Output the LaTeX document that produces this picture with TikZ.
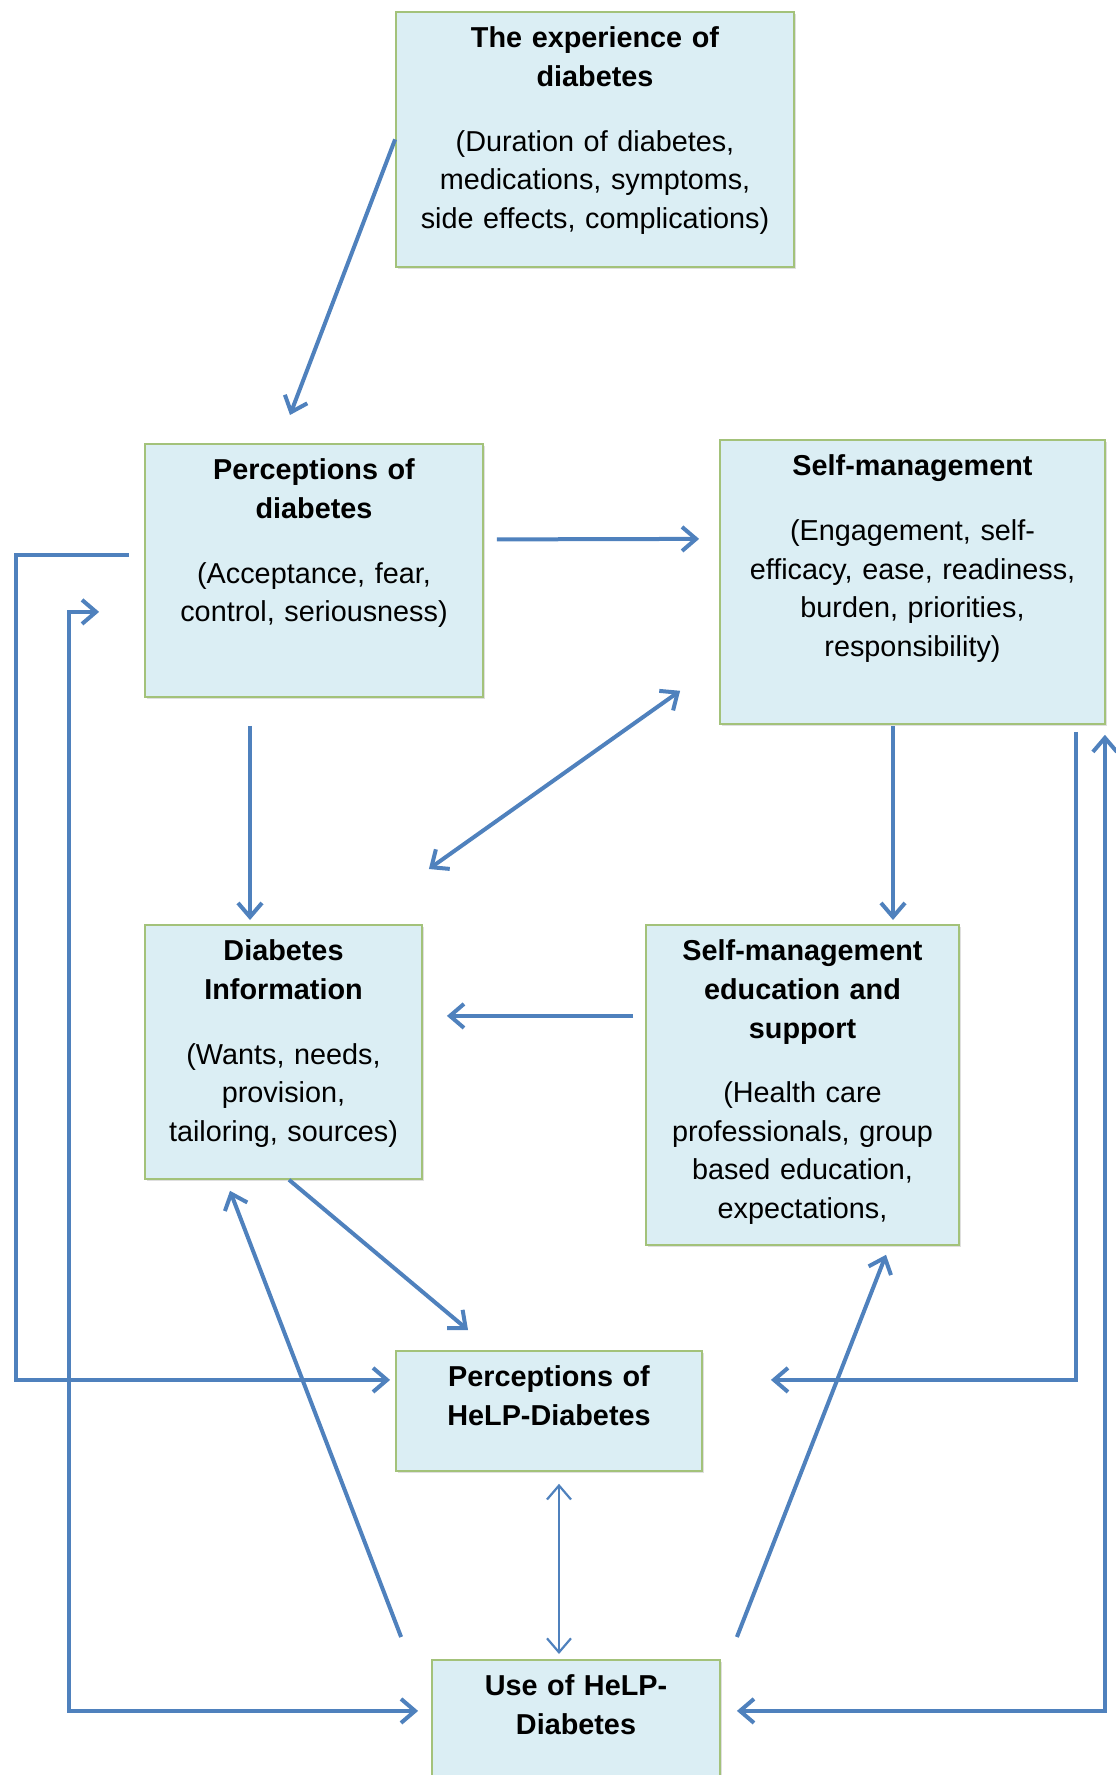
\documentclass[tikz,border=0pt]{standalone}
\usepackage{fontspec}
\setmainfont{Liberation Sans}
\usetikzlibrary{arrows.meta, positioning, calc, shadows}
\definecolor{boxfill}{HTML}{DBEEF4}
\definecolor{boxline}{HTML}{A3C27A}
\definecolor{linkblue}{HTML}{4F81BD}

\begin{document}
\begin{tikzpicture}[
  x=0.5pt, y=-0.5pt,
  concept/.style={
    draw=boxline, fill=boxfill, line width=0.9pt, anchor=north,
    align=center, inner xsep=4pt, inner ysep=7pt, text height=11pt,
    font=\fontsize{14.4}{19.3}\selectfont,
    drop shadow={shadow xshift=1pt, shadow yshift=-1.2pt, opacity=0.25}
  },
  link/.style={draw=linkblue, line width=2pt,
    -{Straight Barb[length=7pt, width=12pt]}},
  twoway/.style={link, {Straight Barb[length=7pt, width=12pt]}-{Straight Barb[length=7pt, width=12pt]}}
]
  \useasboundingbox (0,0) rectangle (1115,1775);

  \node[concept, text width=191pt, text depth=102.5pt] (exp) at (595,11)
    {{\bfseries The experience of\\diabetes}\\[13pt]
     (Duration of diabetes,\\medications, symptoms,\\side effects, complications)};
  \node[concept, text width=161pt, text depth=101.5pt] (perc) at (314,443)
    {{\bfseries Perceptions of\\diabetes}\\[13pt]
     (Acceptance, fear,\\control, seriousness)};
  \node[concept, text width=184.5pt, text depth=117pt] (self) at (912.5,439)
    {{\bfseries Self-management}\\[13pt]
     (Engagement, self-\\efficacy, ease, readiness,\\burden, priorities,\\responsibility)};
  \node[concept, text width=130.5pt, text depth=102pt] (info) at (283.5,924)
    {{\bfseries Diabetes\\Information}\\[13pt]
     (Wants, needs,\\provision,\\tailoring, sources)};
  \node[concept, text width=148.5pt, text depth=135pt] (smes) at (802.5,924)
    {{\bfseries Self-management\\education and\\support}\\[13pt]
     (Health care\\professionals, group\\based education,\\expectations,};
  \node[concept, text width=145pt, text depth=35pt] (phd) at (549,1350)
    {{\bfseries Perceptions of\\HeLP-Diabetes}};
  \node[concept, text width=136pt, text depth=40pt] (use) at (576,1659)
    {{\bfseries Use of HeLP-\\Diabetes}};

  \draw[link] (exp.west) -- ($(perc.north)+(-24,-28)$);
  \draw[link] ($(perc.east)+(13,-31)$) -- ($(self.west)+(-20,-43)$);
  \draw[link] ($(perc.south)+(-64,28)$) -- ($(info.north)+(-33.5,-4)$);
  \draw[twoway] ($(self.south west)+(-39,-34)$) -- ($(info.north east)+(6,-55)$);
  \draw[link] ($(self.south)+(-19.5,1)$) -- ($(smes.north)+(90.5,-4)$);
  \draw[link] ($(smes.west)+(-12,-69)$) -- ($(info.east)+(24,-36)$);
  \draw[link] ($(info.south)+(5.5,0)$) -- ($(phd.north)+(-81,-20)$);
  \draw[link] ($(use.north west)+(-30,-22)$) -- ($(info.south)+(-53.5,11)$);
  \draw[link] ($(use.north east)+(16,-22)$) -- ($(smes.south)+(83.5,9)$);
  \draw[twoway, line width=1.1pt] ($(phd.south)+(10,12)$) -- ($(use.north)+(-17,-5)$);
  \draw[link] ($(perc.west)+(-15,-15.5)$) -- ++(-113,0) |- ($(phd.west)+(-5,-31)$);
  \draw[twoway] ($(perc.west)+(-45,41.5)$) -- ++(-30,0) |- ($(use.west)+(-13,-14)$);
  \draw[link] ($(self.south east)+(-30,7)$) |- ($(phd.east)+(68,-31)$);
  \draw[twoway] ($(self.south east)+(-1,10)$) |- ($(use.east)+(16,-14)$);
\end{tikzpicture}
\end{document}
